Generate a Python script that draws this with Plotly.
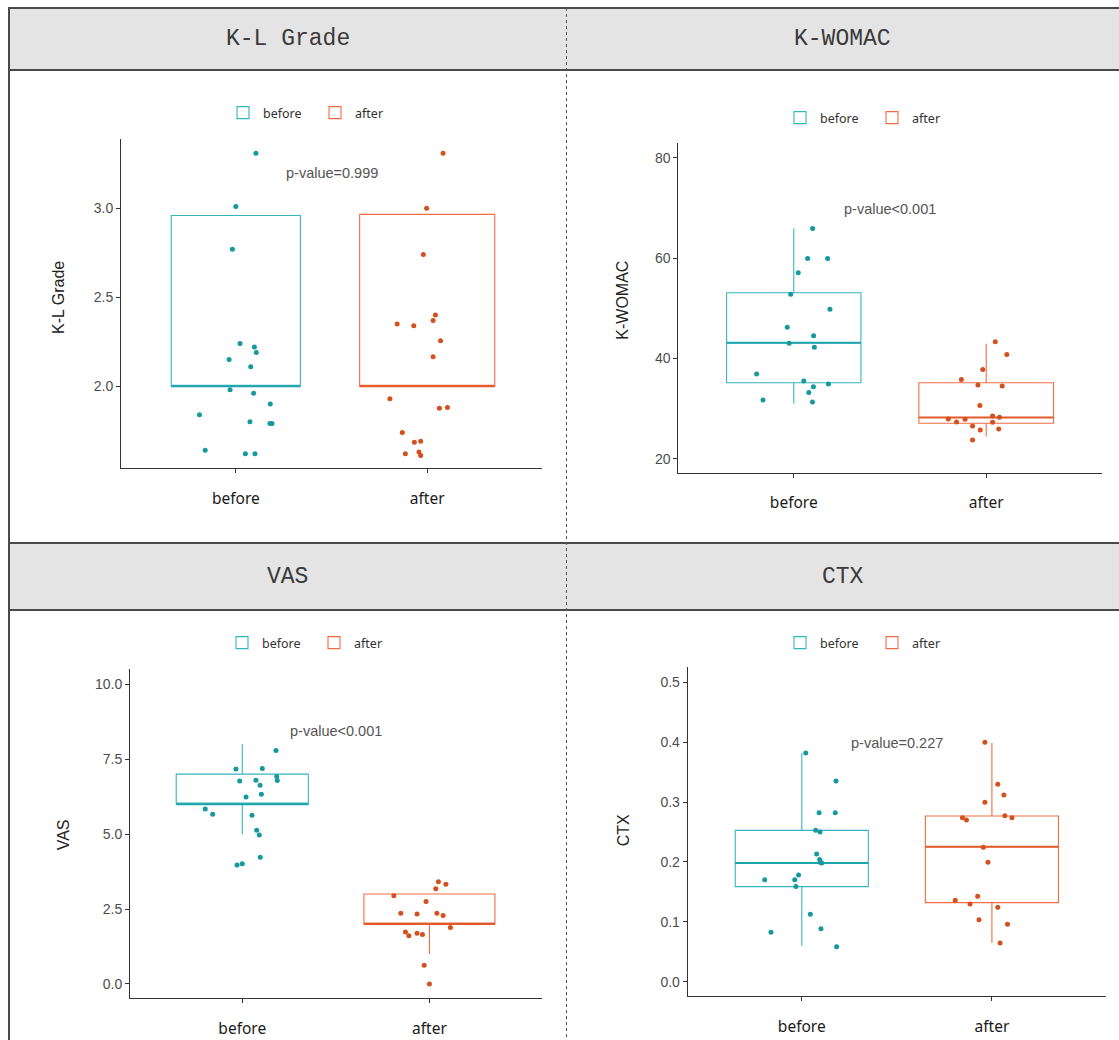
import plotly.graph_objects as go
import numpy as np

W, H = 1119, 1040

# ---------------- data ----------------
categories = ["before", "after"]
panel_titles = ["K-L Grade", "K-WOMAC", "VAS", "CTX"]
y_titles = ["K-L Grade", "K-WOMAC", "VAS", "CTX"]
p_labels = ["p-value=0.999", "p-value<0.001", "p-value<0.001", "p-value=0.227"]
p_label_y = [3.2, 69.7, 8.45, 0.398]

# K-L Grade
kl_before = [3.31, 3.01, 2.77, 2.24, 2.22, 2.19, 2.15, 2.11, 1.98, 1.96, 1.90, 1.84, 1.80, 1.79, 1.79, 1.64, 1.62, 1.62]
kl_before_jit = [0.105, 0.0, -0.018, 0.022, 0.097, 0.107, -0.035, 0.078, -0.03, 0.093, 0.18, -0.19, 0.074, 0.178, 0.189, -0.16, 0.05, 0.10]
kl_after = [3.31, 3.00, 2.74, 2.35, 2.34, 2.40, 2.37, 2.255, 2.165, 1.93, 1.876, 1.88, 1.74, 1.685, 1.69, 1.62, 1.63, 1.61]
kl_after_jit = [0.083, -0.003, -0.02, -0.157, -0.07, 0.043, 0.031, 0.07, 0.031, -0.195, 0.064, 0.106, -0.13, -0.067, -0.034, -0.114, -0.043, -0.034]
# [lowerfence, q1, median, q3, upperfence]
kl_stats_before = [2.0, 2.0, 2.0, 2.96, 2.96]
kl_stats_after = [2.0, 2.0, 2.0, 2.966, 2.966]

# K-WOMAC
kw_before = [65.9, 59.9, 59.9, 57.1, 52.8, 49.8, 46.2, 44.5, 43.0, 42.2, 36.9, 35.5, 34.9, 34.35, 33.2, 31.7, 31.3]
kw_before_jit = [0.098, 0.072, 0.176, 0.023, -0.016, 0.188, -0.034, 0.103, -0.024, 0.107, -0.193, 0.052, 0.18, 0.102, 0.078, -0.16, 0.097]
kw_after = [43.3, 40.8, 37.8, 35.8, 34.7, 34.5, 30.6, 28.5, 28.25, 27.9, 27.85, 27.3, 27.25, 26.5, 25.9, 25.7, 23.7]
kw_after_jit = [0.047, 0.107, -0.018, -0.129, -0.043, 0.083, -0.033, 0.033, 0.069, -0.197, -0.11, -0.154, 0.033, -0.071, 0.065, -0.031, -0.071]
kw_stats_before = [31.0, 35.15, 43.1, 53.1, 65.9]
kw_stats_after = [24.4, 27.06, 28.2, 35.15, 42.9]

# VAS
vas_before = [7.79, 7.17, 7.19, 6.92, 6.79, 6.77, 6.80, 6.63, 6.33, 6.24, 5.84, 5.66, 5.63, 5.13, 4.97, 4.23, 3.97, 4.01]
vas_before_jit = [0.18, -0.034, 0.107, 0.184, 0.187, -0.014, 0.073, 0.095, 0.102, 0.02, -0.198, -0.158, 0.052, 0.077, 0.091, 0.096, -0.028, 0.0]
vas_after = [3.41, 3.33, 3.18, 2.94, 2.75, 2.36, 2.33, 2.36, 2.28, 1.88, 1.73, 1.61, 1.69, 1.65, 0.62, 0.0]
vas_after_jit = [0.048, 0.088, 0.034, -0.19, -0.018, -0.153, -0.066, 0.04, 0.073, 0.112, -0.128, -0.11, -0.066, -0.037, -0.028, 0.0]
vas_stats_before = [5.0, 6.0, 6.0, 7.0, 8.0]
vas_stats_after = [1.0, 2.0, 2.0, 3.0, 3.0]

# CTX
ctx_before = [0.382, 0.335, 0.282, 0.282, 0.253, 0.25, 0.213, 0.204, 0.199, 0.198, 0.178, 0.170, 0.170, 0.159, 0.1125, 0.0885, 0.0825, 0.0584]
ctx_before_jit = [0.021, 0.18, 0.091, 0.176, 0.073, 0.096, 0.078, 0.094, 0.098, 0.105, -0.017, -0.195, -0.037, -0.031, 0.045, 0.101, -0.162, 0.183]
ctx_after = [0.3997, 0.3295, 0.3117, 0.2995, 0.2771, 0.2738, 0.2738, 0.27, 0.2244, 0.1993, 0.1426, 0.1359, 0.1297, 0.1242, 0.1035, 0.0958, 0.0646]
ctx_after_jit = [-0.037, 0.031, 0.063, -0.037, 0.068, 0.105, -0.155, -0.134, -0.045, -0.021, -0.075, -0.193, -0.115, 0.031, -0.068, 0.082, 0.043]
ctx_stats_before = [0.060, 0.1586, 0.198, 0.2527, 0.382]
ctx_stats_after = [0.065, 0.132, 0.2254, 0.2766, 0.399]

# ---------------- styling / layout ----------------
box_colors = ["#35b6bd", "#f26c42"]
median_colors = ["#1ea4ab", "#e2592a"]
point_colors = ["#14999e", "#d4501c"]

def px(x):
    return x / W

def py(y):
    return 1 - y / H

# plot-area rectangles in pixels: (left, right, top, bottom), y ranges, dtick
panels = [
    dict(rect=(121, 542, 139, 468), yr=(1.54, 3.39), dtick=0.5, fmt=".1f",
         ytitle_pos=(58, 298), legend_pos=(315, 113), box_w=(0.675, 0.706),
         pts=[(kl_before, kl_before_jit), (kl_after, kl_after_jit)],
         stats=[kl_stats_before, kl_stats_after]),
    dict(rect=(678.3, 1101.7, 143.3, 472.7), yr=(17.2, 82.9), dtick=20, fmt="d",
         ytitle_pos=(621.7, 300), legend_pos=(872, 118), box_w=(0.698, 0.70),
         pts=[(kw_before, kw_before_jit), (kw_after, kw_after_jit)],
         stats=[kw_stats_before, kw_stats_after]),
    dict(rect=(130, 541.7, 669.3, 998.3), yr=(-0.48, 10.5), dtick=2.5, fmt=".1f",
         ytitle_pos=(63.3, 835), legend_pos=(314, 643), box_w=(0.706, 0.70),
         pts=[(vas_before, vas_before_jit), (vas_after, vas_after_jit)],
         stats=[vas_stats_before, vas_stats_after]),
    dict(rect=(687.7, 1106, 667.3, 996), yr=(-0.024, 0.525), dtick=0.1, fmt=".1f",
         ytitle_pos=(623.3, 830), legend_pos=(872, 643), box_w=(0.70, 0.70),
         pts=[(ctx_before, ctx_before_jit), (ctx_after, ctx_after_jit)],
         stats=[ctx_stats_before, ctx_stats_after]),
]

fig = go.Figure()
layout = dict(
    width=W, height=H, margin=dict(l=0, r=0, t=0, b=0),
    paper_bgcolor="white", plot_bgcolor="rgba(0,0,0,0)",
    showlegend=True, boxmode="overlay",
    font=dict(family="Liberation Sans, Arial, sans-serif", color="#333"),
)
annotations = []
shapes = []

for i, p in enumerate(panels):
    k = "" if i == 0 else str(i + 1)
    xa, ya = "x" + k, "y" + k
    leg = "legend" + k
    l, r, t, b = p["rect"]
    for g, cat in enumerate(categories):
        s = p["stats"][g]
        bw = p["box_w"][g]
        fig.add_trace(go.Box(
            x=[g], lowerfence=[s[0]], q1=[s[1]], median=[s[2]], q3=[s[3]], upperfence=[s[4]],
            orientation="v", width=bw, whiskerwidth=0,
            fillcolor="rgba(255,255,255,0)", line=dict(color=box_colors[g], width=1.1),
            name=cat, legend=leg, xaxis=xa, yaxis=ya, boxpoints=False, hoverinfo="skip",
        ))
        # thicker median bar, as drawn by ggplot
        fig.add_trace(go.Scatter(
            x=[g - bw / 2, g + bw / 2], y=[s[2], s[2]], mode="lines",
            line=dict(color=median_colors[g], width=2), showlegend=False,
            xaxis=xa, yaxis=ya, hoverinfo="skip",
        ))
    for g, cat in enumerate(categories):
        vals, jit = p["pts"][g]
        fig.add_trace(go.Scatter(
            x=g + np.array(jit), y=vals, mode="markers",
            marker=dict(size=5, color=point_colors[g], line=dict(width=0)),
            showlegend=False, xaxis=xa, yaxis=ya, hoverinfo="skip",
        ))
    layout["xaxis" + k] = dict(
        domain=[px(l), px(r)], anchor=ya, range=[-0.6, 1.6],
        tickmode="array", tickvals=[0, 1], ticktext=categories,
        showgrid=False, zeroline=False, showline=True, linecolor="#333", linewidth=1,
        ticks="outside", ticklen=4, tickcolor="#333", ticklabelstandoff=12,
        tickfont=dict(family="Noto Sans, Open Sans, sans-serif", size=15.5, color="#1a1a1a"),
    )
    layout["yaxis" + k] = dict(
        domain=[py(b), py(t)], anchor=xa, range=list(p["yr"]),
        dtick=p["dtick"], tick0=0, tickformat=p["fmt"],
        showgrid=False, zeroline=False, showline=True, linecolor="#333", linewidth=1,
        ticks="outside", ticklen=4, tickcolor="#333",
        tickfont=dict(family="Liberation Sans, Arial, sans-serif", size=14, color="#4d4d4d"),
    )
    lx, ly = p["legend_pos"]
    layout[leg] = dict(
        orientation="h", x=px(lx), xanchor="center", y=py(ly), yanchor="middle",
        font=dict(family="Noto Sans, Open Sans, sans-serif", size=12.5, color="#333"),
        bgcolor="rgba(0,0,0,0)", itemwidth=30, entrywidth=47, entrywidthmode="pixels",
    )
    tx, ty = p["ytitle_pos"]
    annotations.append(dict(
        x=px(tx), y=py(ty), xref="paper", yref="paper", text=y_titles[i], showarrow=False,
        textangle=-90, xanchor="center", yanchor="middle",
        font=dict(family="Liberation Sans, Arial, sans-serif", size=16, color="#222"),
    ))
    annotations.append(dict(
        x=0.5, y=p_label_y[i], xref=xa, yref=ya, text=p_labels[i], showarrow=False,
        xanchor="center", yanchor="middle",
        font=dict(family="Liberation Sans, Arial, sans-serif", size=14.5, color="#555"),
    ))

# table frame and header rows
header_rows = [(8, 70), (543, 610)]
col_centers = [287.5, 843]
for ri, (t, b) in enumerate(header_rows):
    shapes.append(dict(type="rect", xref="paper", yref="paper", x0=px(9), x1=px(1119),
                       y0=py(b), y1=py(t), fillcolor="#e4e4e4", line=dict(width=0), layer="below"))
    for yy in (t, b):
        shapes.append(dict(type="line", xref="paper", yref="paper", x0=px(9), x1=px(1119),
                           y0=py(yy), y1=py(yy), line=dict(color="#4a4a4a", width=2)))
    for ci in range(2):
        annotations.append(dict(
            x=px(col_centers[ci]), y=py((t + b) / 2), xref="paper", yref="paper",
            text=panel_titles[ri * 2 + ci], showarrow=False, xanchor="center", yanchor="middle",
            font=dict(family="Liberation Mono, Courier New, monospace", size=23, color="#3a3a3a"),
        ))
shapes.append(dict(type="line", xref="paper", yref="paper", x0=px(9), x1=px(9),
                   y0=py(7), y1=0, line=dict(color="#4a4a4a", width=2)))
shapes.append(dict(type="line", xref="paper", yref="paper", x0=px(566.5), x1=px(566.5),
                   y0=py(8), y1=0, line=dict(color="#555", width=1, dash="dot")))

layout["annotations"] = annotations
layout["shapes"] = shapes
fig.update_layout(**layout)

fig.write_html("out.html", config={"displayModeBar": False},
               post_script="document.body.style.margin='0';")
